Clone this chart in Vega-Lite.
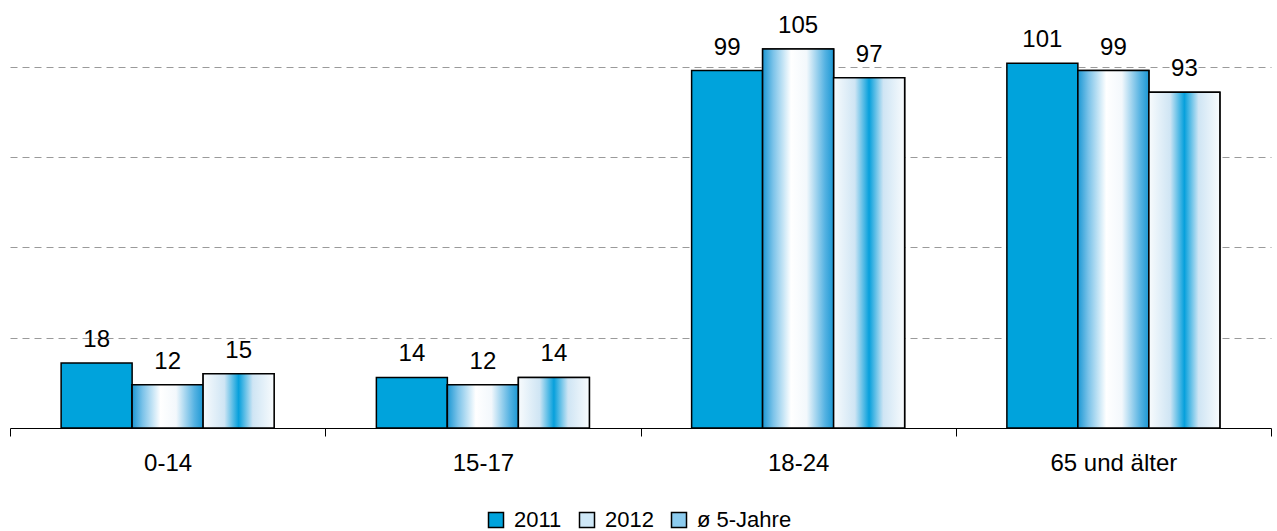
{
  "$schema": "https://vega.github.io/schema/vega-lite/v6.json",
  "autosize": {"type": "none"},
  "width": 1261,
  "height": 426,
  "padding": {"left": 10, "top": 2, "right": 6, "bottom": 103},
  "background": "white",
  "config": {"view": {"stroke": null}, "font": "Liberation Sans"},
  "data": {"values": [
    {"gruppe": "0-14", "serie": "2011", "wert": 18},
    {"gruppe": "0-14", "serie": "2012", "wert": 12},
    {"gruppe": "0-14", "serie": "ø 5-Jahre", "wert": 15},
    {"gruppe": "15-17", "serie": "2011", "wert": 14},
    {"gruppe": "15-17", "serie": "2012", "wert": 12},
    {"gruppe": "15-17", "serie": "ø 5-Jahre", "wert": 14},
    {"gruppe": "18-24", "serie": "2011", "wert": 99},
    {"gruppe": "18-24", "serie": "2012", "wert": 105},
    {"gruppe": "18-24", "serie": "ø 5-Jahre", "wert": 97},
    {"gruppe": "65 und älter", "serie": "2011", "wert": 101},
    {"gruppe": "65 und älter", "serie": "2012", "wert": 99},
    {"gruppe": "65 und älter", "serie": "ø 5-Jahre", "wert": 93}
  ]},
  "encoding": {
    "x": {"field": "gruppe", "type": "nominal", "sort": null,
      "scale": {"paddingInner": 0, "paddingOuter": 0},
      "axis": {"title": null, "labelAngle": 0, "labelFontSize": 24, "labelColor": "#000000",
        "tickBand": "extent", "tickSize": 8, "tickColor": "#000000", "domainColor": "#000000",
        "labelPadding": 15, "grid": false}},
    "xOffset": {"field": "serie", "type": "nominal", "sort": ["2011", "2012", "ø 5-Jahre"],
      "scale": {"paddingInner": 0, "paddingOuter": 0.72}},
    "y": {"field": "wert", "type": "quantitative",
      "scale": {"domain": [0, 118], "nice": false, "zero": true},
      "axis": {"title": null, "labels": false, "ticks": false, "domain": false,
        "values": [25, 50, 75, 100], "grid": true, "gridDash": [7, 5], "gridColor": "#9a9a9a", "gridWidth": 1}}
  },
  "layer": [
    {
      "mark": {"type": "bar", "stroke": "#000000", "strokeWidth": 1.5},
      "encoding": {
        "color": {"field": "serie", "type": "nominal",
          "scale": {"domain": ["2011", "2012", "ø 5-Jahre"], "range": ["#00a3dc", "#cfe8f7", "#8ccbee"]},
          "legend": {"title": null, "orient": "none", "direction": "horizontal",
            "legendX": 475, "legendY": 507, "symbolType": "square", "symbolSize": 225,
            "symbolStrokeColor": "#000000", "symbolStrokeWidth": 1.5, "labelFontSize": 22,
            "labelColor": "#000000", "columnPadding": 14, "labelOffset": 7}}
      }
    },
    {
      "transform": [{"filter": "datum.serie === '2012'"}],
      "mark": {"type": "bar", "stroke": "#000000", "strokeWidth": 1.5,
        "fill": {"gradient": "linear", "x1": 0, "y1": 0, "x2": 1, "y2": 0, "stops": [
          {"offset": 0, "color": "#1c98d4"},
          {"offset": 0.15, "color": "#7cc3e9"},
          {"offset": 0.4, "color": "#ffffff"},
          {"offset": 0.62, "color": "#f3f8fc"},
          {"offset": 0.88, "color": "#54b2e2"},
          {"offset": 1, "color": "#1c98d4"}]}},
      "encoding": {}
    },
    {
      "transform": [{"filter": "datum.serie === 'ø 5-Jahre'"}],
      "mark": {"type": "bar", "stroke": "#000000", "strokeWidth": 1.5,
        "fill": {"gradient": "linear", "x1": 0, "y1": 0, "x2": 1, "y2": 0, "stops": [
          {"offset": 0, "color": "#f8fbfd"},
          {"offset": 0.3, "color": "#cfe5f4"},
          {"offset": 0.5, "color": "#06a0dc"},
          {"offset": 0.7, "color": "#cfe5f4"},
          {"offset": 1, "color": "#f8fbfd"}]}},
      "encoding": {}
    },
    {
      "mark": {"type": "text", "baseline": "alphabetic", "dy": -16, "fontSize": 24, "color": "#000000"},
      "encoding": {"text": {"field": "wert", "type": "quantitative"}}
    }
  ]
}
